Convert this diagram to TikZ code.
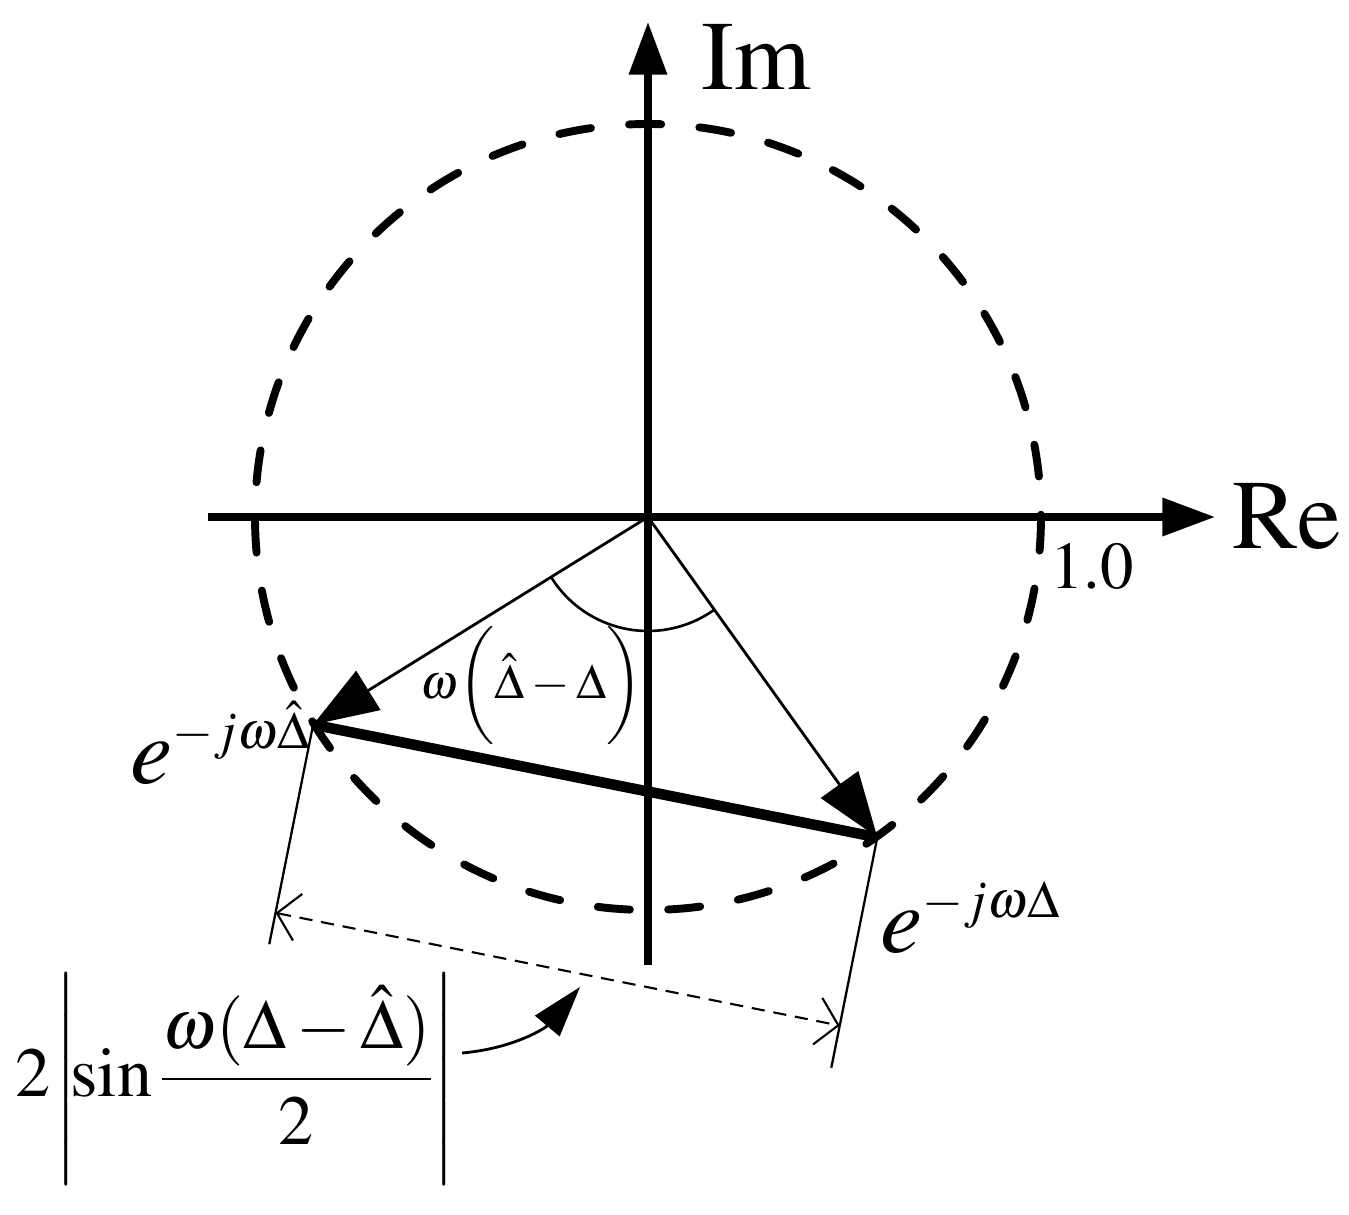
\documentclass[tikz,border=0pt]{standalone}
\usepackage[T1]{fontenc}
\usepackage{mathptmx}
\usepackage{amsmath}
\usetikzlibrary{arrows.meta, calc}
\DeclareMathSizes{54}{54}{30}{22}
\tikzset{
	axis/.style={line width=4.2pt, -{Triangle[length=30pt,width=21pt]}},
	unitcircle/.style={line width=4.5pt, line cap=round, dash pattern=on 18.3pt off 21.8pt, dash phase=17pt},
	phasor/.style={line width=1.6pt, -{Triangle[length=37pt,width=26pt]}},
	chordline/.style={line width=6pt},
	anglearc/.style={line width=1.5pt},
	extline/.style={line width=1.3pt},
	dimline/.style={line width=1.2pt, dash pattern=on 7.5pt off 5pt, {Straight Barb[length=12pt,width=27pt,line width=1.2pt]}-{Straight Barb[length=12pt,width=27pt,line width=1.2pt]}},
	pointer/.style={line width=1.6pt, -{Triangle[length=29pt,width=18pt]}},
	lbl/.style={inner sep=0pt},
}
\begin{document}
\begin{tikzpicture}[x=0.02cm, y=0.02cm]
	\useasboundingbox (-648,-697) rectangle (701,517);
	\coordinate (O) at (0,0);
	\coordinate (A) at (211.8:394);
	\coordinate (B) at (305.6:394);
	\coordinate (reStart) at (-440,0);
	\coordinate (reEnd) at (567,0);
	\coordinate (imStart) at (0,-448);
	\coordinate (imEnd) at (0,495);
	\draw[unitcircle] (O) circle[radius=393];
	\draw[axis] (reStart) -- (reEnd);
	\draw[axis] (imStart) -- (imEnd);
	\draw[chordline] (A) -- (B);
	\draw[phasor] (O) -- (A);
	\draw[phasor] (O) -- (B);
	\draw[anglearc] (O) ++(211.8:114) arc[start angle=211.8, end angle=305.6, radius=114];
	% dimension of the chord
	\coordinate (extA) at ($(A)!4.48cm!-90:(B)$);
	\coordinate (extB) at ($(B)!4.7cm!90:(A)$);
	\coordinate (dimA) at ($(A)!3.84cm!-90:(B)$);
	\coordinate (dimB) at ($(B)!3.84cm!90:(A)$);
	\draw[extline] (A) -- (extA);
	\draw[extline] (B) -- (extB);
	\draw[dimline] (dimA) -- (dimB);
	\node[lbl, font=\fontsize{56}{60}\selectfont, anchor=base west] (lblIm) at (53,427) {Im};
	\node[lbl, font=\fontsize{56}{60}\selectfont, anchor=base west] (lblRe) at (584,-31) {Re};
	\node[lbl, font=\fontsize{38}{44}\selectfont, anchor=base west] (lblOne) at (402,-71) {1.0};
	\node[lbl, font=\fontsize{54}{60}\selectfont, anchor=base west] (lblA) at (-518,-266) {$e^{-j\omega\hat{\Delta}}$};
	\node[lbl, font=\fontsize{54}{60}\selectfont, anchor=base west] (lblB) at (232,-435) {$e^{-j\omega\Delta}$};
	\node[lbl, font=\fontsize{28}{32}\selectfont] (lblAngle) at (-116,-169) {$\omega\biggl(\hat{\Delta}-\Delta\biggr)$};
	\node[lbl, font=\fontsize{40}{48}\selectfont] (lblChord) at (-412,-562) {$2\mkern-1mu\left|\mkern-2mu\sin\dfrac{\omega(\Delta-\hat{\Delta})}{2}\right|$};
	\coordinate (curveS) at (-186,-536);
	\coordinate (curveT) at (-68,-470);
	\draw[pointer] (curveS) to[out=5, in=230] (curveT);
\end{tikzpicture}
\end{document}
